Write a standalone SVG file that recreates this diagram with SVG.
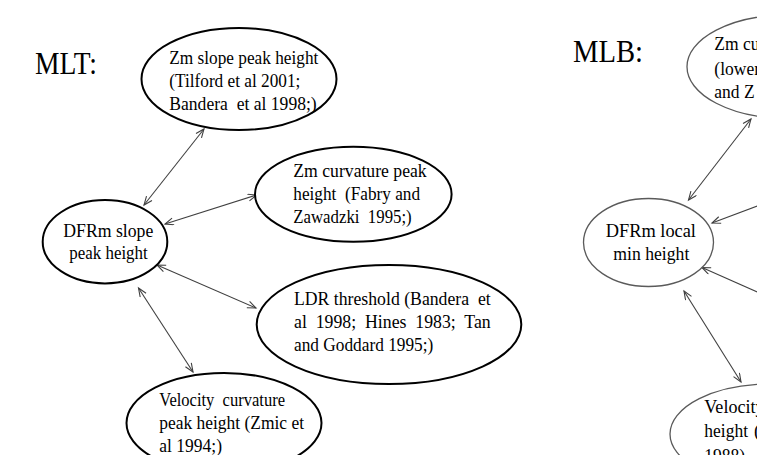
<svg xmlns="http://www.w3.org/2000/svg" width="757" height="455" viewBox="0 0 757 455">
<defs>
<style>
.t{font-family:"Liberation Serif","Times New Roman",serif;font-size:18.5px;fill:#000;white-space:pre}
.title{font-family:"Liberation Serif","Times New Roman",serif;font-size:31px;fill:#000}
.nl{fill:#fff;stroke:#000;stroke-width:2}
.nr{fill:#fff;stroke:#5a5a5a;stroke-width:1.3}
.c{stroke:#404040;stroke-width:1.1;fill:none;marker-end:url(#ah);marker-start:url(#ah)}
.c1{stroke:#404040;stroke-width:1.1;fill:none;marker-start:url(#ah)}
</style>
<marker id="ah" markerUnits="userSpaceOnUse" markerWidth="12" markerHeight="10" refX="10" refY="4" orient="auto-start-reverse">
<path d="M1.5,0.5 L10,4 L1.5,7.5" fill="none" stroke="#404040" stroke-width="1.1"/>
</marker>
</defs>
<rect width="757" height="455" fill="#fff"/>
<text class="title" x="35" y="73.5" textLength="62" lengthAdjust="spacingAndGlyphs">MLT:</text>
<text class="title" x="573" y="62" textLength="70" lengthAdjust="spacingAndGlyphs">MLB:</text>
<g id="connectors">
<line class="c" x1="204" y1="129" x2="144" y2="205"/>
<line class="c" x1="165" y1="224" x2="256.5" y2="195"/>
<line class="c" x1="157" y1="265" x2="256" y2="308"/>
<line class="c" x1="138.5" y1="288" x2="193" y2="372"/>
<line class="c" x1="751" y1="119" x2="688.5" y2="200"/>
<line class="c1" x1="712" y1="223" x2="800" y2="190"/>
<line class="c1" x1="702" y1="267.5" x2="800" y2="311"/>
<line class="c" x1="684" y1="291" x2="741" y2="382"/>
</g>
<g id="n-zm-slope">
<ellipse class="nl" cx="239" cy="79" rx="97.5" ry="51"/>
<text class="t" x="169.3" y="63.5" textLength="149" lengthAdjust="spacingAndGlyphs">Zm slope peak height</text>
<text class="t" x="169.3" y="86.5" textLength="131" lengthAdjust="spacingAndGlyphs">(Tilford et al 2001;</text>
<text class="t" x="169.3" y="109.5" textLength="147.4" lengthAdjust="spacingAndGlyphs">Bandera  et al 1998;)</text>
</g>
<g id="n-dfrm-slope">
<ellipse class="nl" cx="105" cy="241.7" rx="62.3" ry="41.7"/>
<text class="t" x="63.3" y="236.7" textLength="90" lengthAdjust="spacingAndGlyphs">DFRm slope</text>
<text class="t" x="69.3" y="258.5" textLength="78.4" lengthAdjust="spacingAndGlyphs">peak height</text>
</g>
<g id="n-zm-curv">
<ellipse class="nl" cx="353.3" cy="194.2" rx="98.3" ry="47.5"/>
<text class="t" x="293.3" y="176.8" textLength="133.4" lengthAdjust="spacingAndGlyphs">Zm curvature peak</text>
<text class="t" x="293.3" y="199.8" textLength="126.7" lengthAdjust="spacingAndGlyphs">height  (Fabry and</text>
<text class="t" x="293.3" y="222.8" textLength="118.4" lengthAdjust="spacingAndGlyphs">Zawadzki  1995;)</text>
</g>
<g id="n-ldr">
<ellipse class="nl" cx="389" cy="324.5" rx="132.3" ry="59.5"/>
<text class="t" x="294" y="305" textLength="196.7" lengthAdjust="spacingAndGlyphs">LDR threshold (Bandera  et</text>
<text class="t" x="294" y="328.3" textLength="196.7" lengthAdjust="spacingAndGlyphs">al  1998;  Hines  1983;  Tan</text>
<text class="t" x="294" y="351" textLength="139.3" lengthAdjust="spacingAndGlyphs">and Goddard 1995;)</text>
</g>
<g id="n-velocity">
<ellipse class="nl" cx="224" cy="423" rx="97.5" ry="50"/>
<text class="t" x="159.3" y="405.5" textLength="125.7" lengthAdjust="spacingAndGlyphs">Velocity  curvature</text>
<text class="t" x="159.3" y="428.7" textLength="144.7" lengthAdjust="spacingAndGlyphs">peak height (Zmic et</text>
<text class="t" x="159.3" y="451.5" textLength="62.7" lengthAdjust="spacingAndGlyphs">al 1994;)</text>
</g>
<g id="n-zm-curv-lower">
<ellipse class="nr" cx="787" cy="66.7" rx="100" ry="51.7"/>
<text class="t" x="714.3" y="50" textLength="45.2" lengthAdjust="spacingAndGlyphs">Zm cu</text>
<text class="t" x="714.3" y="74.5" textLength="45.7" lengthAdjust="spacingAndGlyphs">(lower</text>
<text class="t" x="714.3" y="98.3" textLength="40.3" lengthAdjust="spacingAndGlyphs">and Z</text>
</g>
<g id="n-dfrm-local">
<ellipse class="nr" cx="648.5" cy="242.5" rx="65" ry="44"/>
<text class="t" x="605.7" y="236.7" textLength="90.3" lengthAdjust="spacingAndGlyphs">DFRm local</text>
<text class="t" x="613.3" y="260" textLength="76" lengthAdjust="spacingAndGlyphs">min height</text>
</g>
<g id="n-velocity-r">
<ellipse class="nr" cx="770" cy="434" rx="100" ry="50"/>
<text class="t" x="704.3" y="413.3" textLength="60.3" lengthAdjust="spacingAndGlyphs">Velocity</text>
<text class="t" x="704.3" y="436.7" textLength="43.7" lengthAdjust="spacingAndGlyphs">height</text>
<text class="t" x="754" y="436.7">(</text>
<text class="t" x="704.3" y="462" textLength="40.8" lengthAdjust="spacingAndGlyphs">1988)</text>
</g>
</svg>
